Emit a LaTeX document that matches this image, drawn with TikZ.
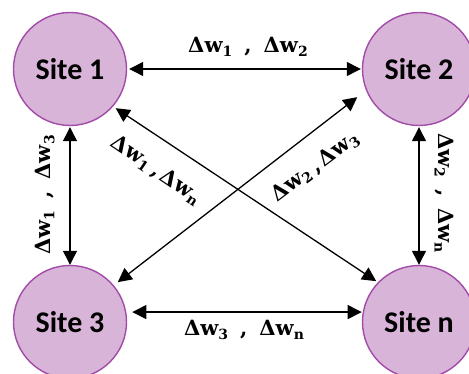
\documentclass[tikz,border=0pt]{standalone}
\usepackage{graphicx}
\usepackage{fontspec}
\newfontfamily\sitefont{Carlito}
\newfontfamily\wfont{DejaVu Serif}
\usetikzlibrary{arrows.meta}
\definecolor{sitefill}{HTML}{D8B4D8}
\definecolor{siteline}{HTML}{A24BA8}
\tikzset{
  site/.style={circle, draw=siteline, line width=1.4pt, fill=sitefill,
    minimum size=113pt, inner sep=0pt, font=\sitefont\bfseries\fontsize{30}{33}\selectfont},
  link/.style={line width=1.3pt, {Triangle[length=14pt,width=14pt]}-{Triangle[length=14pt,width=14pt]}},
  wlabel/.style={inner sep=1pt, font=\wfont\bfseries\fontsize{21}{24}\selectfont}
}
% bold weight update symbol with lowered index
\newcommand{\dw}[1]{Δw\raisebox{-3.5pt}{\fontsize{14}{15}\selectfont #1}}
\newcommand{\wide}[2]{\dw{#1}\hspace{12pt},\hspace{12pt}\dw{#2}}
\newcommand{\tight}[2]{\dw{#1}\hspace{5pt},\hspace{3pt}\dw{#2}}
\begin{document}
\begin{tikzpicture}[x=1pt,y=-1pt]
  \useasboundingbox (0,0) rectangle (469,374);
  \clip (0,0) rectangle (469,374);

  % the four sites
  \node[site] (s1) at (70,69)  {Site 1};
  \node[site] (s2) at (419,69) {Site 2};
  \node[site] (s3) at (70,322) {Site 3};
  \node[site] (sn) at (419,322) {Site n};

  % exchange links
  \draw[link, shorten <=2pt, shorten >=1pt] (s1.east) -- (s2.west);
  \draw[link, shorten <=6pt, shorten >=1pt] (s3.10) -- (sn.170);
  \draw[link, shorten <=1pt] (s1.south) -- (s3.north);
  \draw[link, shorten <=1pt] (s2.south) -- (sn.north);
  \draw[link, shorten <=3pt, shorten >=2pt] (s1.-41) -- (sn.136);
  \draw[link, shorten <=5pt, shorten >=11pt] (s3.40) -- (s2.202);

  % weight updates carried on each link
  \node[wlabel] (l12) at (248,47) {\wide{1}{2}};
  \node[wlabel] (l3n) at (244,330) {\wide{3}{n}};
  \node[wlabel, rotate=90] (l13) at (45,195) {\wide{1}{3}};
  \node[wlabel, rotate=-90] (l2n) at (444,193) {\wide{2}{n}};
  \node[wlabel, rotate=-34] (l1n) at (156,170) {\tight{1}{n}};
  \node[wlabel, rotate=37] (l23) at (315,167) {\tight{2}{3}};
\end{tikzpicture}
\end{document}
